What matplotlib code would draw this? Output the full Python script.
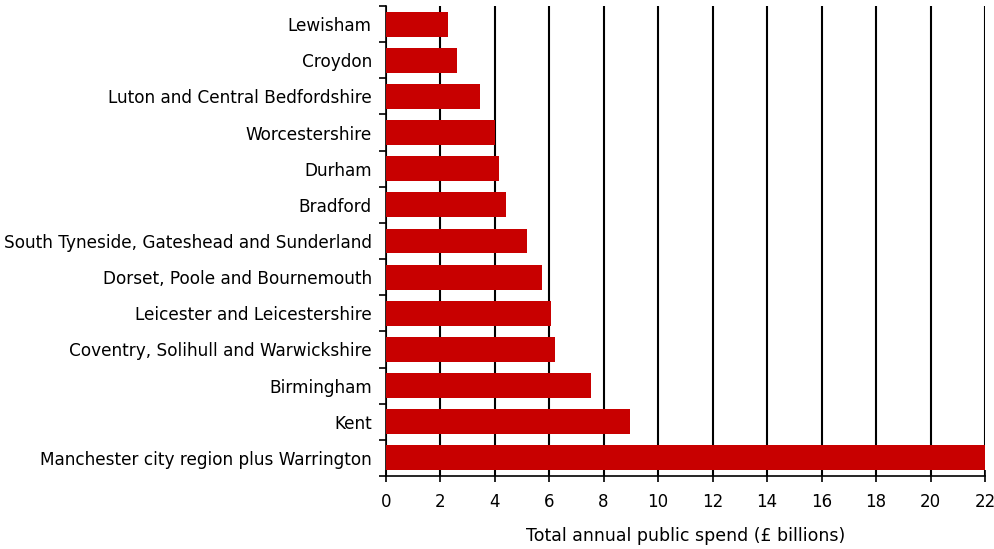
import numpy as np
import matplotlib
matplotlib.use('Agg')
import matplotlib.pyplot as plt

regions = ['Lewisham', 'Croydon', 'Luton and Central Bedfordshire', 'Worcestershire',
           'Durham', 'Bradford', 'South Tyneside, Gateshead and Sunderland',
           'Dorset, Poole and Bournemouth', 'Leicester and Leicestershire',
           'Coventry, Solihull and Warwickshire', 'Birmingham', 'Kent',
           'Manchester city region plus Warrington']
spend = [2.30, 2.62, 3.45, 4.03, 4.17, 4.42, 5.18, 5.75, 6.07, 6.21, 7.52, 8.96, 22.0]
xticks = list(range(0, 23, 2))

plt.rcParams['font.family'] = ['DejaVu Sans']

fig = plt.figure(figsize=(9.95, 5.49), dpi=100)
ax = fig.add_axes([0.3876, 0.133, 0.6024, 0.856])

y = np.arange(len(regions))
ax.barh(y, spend, height=0.69, color='#c80000', zorder=3)

ax.set_xlim(0, 22)
ax.set_ylim(len(regions) - 0.5, -0.5)
ax.set_xticks(xticks)
ax.set_xticklabels([str(t) for t in xticks], fontsize=12)
ax.tick_params(axis='x', direction='inout', length=8, width=1.2, pad=8)

# labels centred on bars, tick marks between categories
ax.set_yticks(y)
ax.set_yticklabels(regions, fontsize=12.2)
ax.tick_params(axis='y', length=0, pad=10)
ax.set_yticks(np.arange(-0.5, len(regions), 1), minor=True)
ax.tick_params(axis='y', which='minor', direction='out', length=5, width=1.2)

ax.grid(axis='x', color='black', linewidth=1.5, zorder=0)
for s in ['top', 'right']:
    ax.spines[s].set_visible(False)
for s in ['left', 'bottom']:
    ax.spines[s].set_linewidth(1.2)

ax.set_xlabel('Total annual public spend (£ billions)', fontsize=12.5, labelpad=12)

plt.savefig('out.png', dpi=100)
plt.close()
